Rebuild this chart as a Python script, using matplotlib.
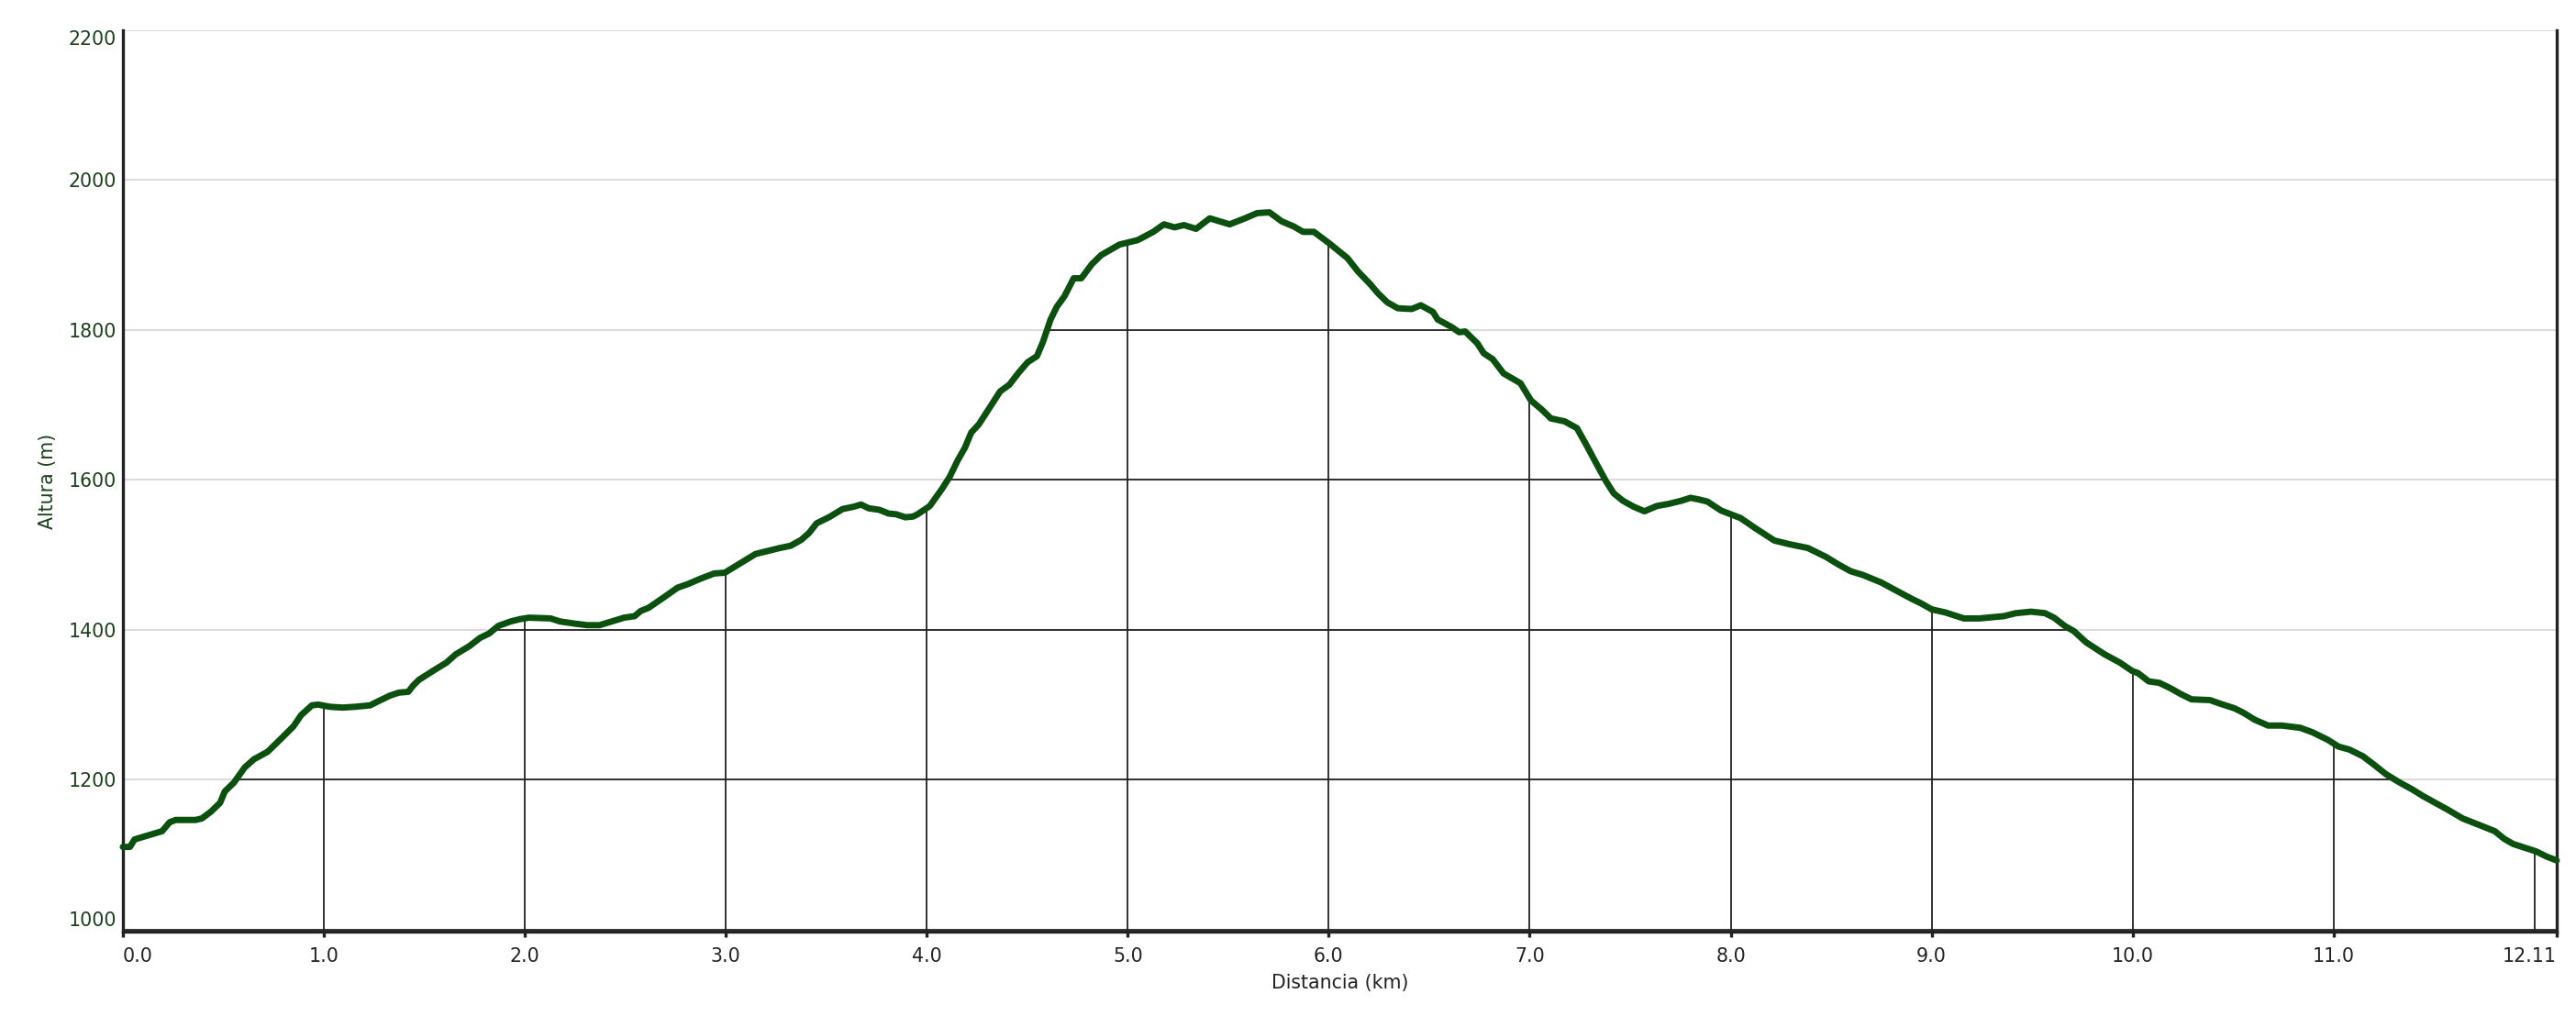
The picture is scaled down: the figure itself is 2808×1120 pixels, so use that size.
import numpy as np
import matplotlib
matplotlib.use("Agg")
import matplotlib.pyplot as plt
from matplotlib.patches import Polygon

# elevation profile (km, m)
dist_km = [0.0, 0.035, 0.058, 0.195, 0.233, 0.263, 0.362, 0.393, 0.438, 0.484,
           0.507, 0.553, 0.606, 0.652, 0.720, 0.789, 0.849, 0.887, 0.941, 0.971,
           1.032, 1.093, 1.154, 1.230, 1.275, 1.329, 1.374, 1.420, 1.443, 1.473,
           1.549, 1.610, 1.656, 1.724, 1.777, 1.823, 1.868, 1.930, 1.975, 2.021,
           2.128, 2.174, 2.250, 2.311, 2.372, 2.433, 2.494, 2.546, 2.577, 2.615,
           2.691, 2.760, 2.813, 2.874, 2.942, 2.995, 3.056, 3.148, 3.224, 3.269,
           3.323, 3.376, 3.414, 3.452, 3.513, 3.581, 3.635, 3.673, 3.711, 3.764,
           3.810, 3.848, 3.893, 3.932, 3.954, 4.015, 4.076, 4.114, 4.152, 4.190,
           4.221, 4.259, 4.312, 4.365, 4.411, 4.457, 4.502, 4.548, 4.578, 4.616,
           4.647, 4.685, 4.731, 4.769, 4.822, 4.868, 4.913, 4.959, 5.050, 5.127,
           5.180, 5.233, 5.279, 5.340, 5.408, 5.507, 5.583, 5.644, 5.705, 5.766,
           5.827, 5.872, 5.926, 6.001, 6.093, 6.146, 6.207, 6.245, 6.291, 6.344,
           6.413, 6.458, 6.519, 6.542, 6.611, 6.649, 6.679, 6.740, 6.771, 6.816,
           6.870, 6.954, 7.006, 7.059, 7.105, 7.174, 7.235, 7.281, 7.335, 7.380,
           7.418, 7.464, 7.518, 7.571, 7.632, 7.693, 7.754, 7.800, 7.838, 7.884,
           7.952, 8.001, 8.049, 8.125, 8.217, 8.293, 8.384, 8.475, 8.536, 8.597,
           8.658, 8.749, 8.811, 8.902, 8.948, 9.001, 9.068, 9.160, 9.237, 9.358,
           9.419, 9.495, 9.564, 9.609, 9.662, 9.708, 9.769, 9.861, 9.937, 9.997,
           10.027, 10.080, 10.133, 10.187, 10.240, 10.293, 10.385, 10.438, 10.507, 10.552,
           10.606, 10.674, 10.743, 10.834, 10.895, 10.971, 11.024, 11.078, 11.146, 11.200,
           11.261, 11.322, 11.390, 11.444, 11.505, 11.566, 11.642, 11.718, 11.802, 11.848,
           11.893, 11.962, 12.008, 12.061, 12.11]
alt_m = [1110, 1110, 1120, 1131, 1143, 1146, 1146, 1148, 1157, 1169,
         1184, 1196, 1216, 1227, 1237, 1255, 1271, 1286, 1299, 1300,
         1297, 1296, 1297, 1299, 1305, 1312, 1316, 1317, 1325, 1333,
         1346, 1356, 1367, 1378, 1389, 1395, 1405, 1411, 1414, 1416,
         1415, 1411, 1408, 1406, 1406, 1411, 1416, 1418, 1425, 1429,
         1443, 1456, 1461, 1468, 1475, 1476, 1486, 1501, 1506, 1509,
         1512, 1520, 1529, 1542, 1550, 1561, 1564, 1567, 1562, 1560,
         1555, 1554, 1550, 1551, 1554, 1565, 1588, 1604, 1625, 1643,
         1663, 1674, 1696, 1718, 1727, 1743, 1757, 1765, 1784, 1814,
         1831, 1845, 1869, 1869, 1888, 1900, 1907, 1914, 1920, 1931,
         1941, 1937, 1940, 1935, 1949, 1941, 1949, 1956, 1957, 1945,
         1938, 1931, 1931, 1916, 1896, 1878, 1861, 1849, 1837, 1829,
         1828, 1833, 1824, 1814, 1804, 1797, 1798, 1782, 1769, 1761,
         1742, 1729, 1706, 1694, 1682, 1678, 1669, 1647, 1620, 1598,
         1582, 1572, 1564, 1558, 1565, 1568, 1572, 1576, 1574, 1571,
         1559, 1554, 1549, 1535, 1519, 1514, 1509, 1497, 1487, 1478,
         1473, 1463, 1454, 1441, 1435, 1427, 1423, 1415, 1415, 1418,
         1422, 1424, 1422, 1416, 1405, 1398, 1383, 1367, 1356, 1345,
         1342, 1331, 1329, 1322, 1314, 1307, 1306, 1301, 1295, 1289,
         1280, 1272, 1272, 1269, 1263, 1253, 1244, 1240, 1231, 1220,
         1207, 1197, 1187, 1178, 1169, 1160, 1148, 1140, 1131, 1121,
         1114, 1108, 1104, 1097, 1092]

x_ticks = [0, 1, 2, 3, 4, 5, 6, 7, 8, 9, 10, 11, 12.11]
x_labels = ["0.0", "1.0", "2.0", "3.0", "4.0", "5.0", "6.0", "7.0", "8.0",
            "9.0", "10.0", "11.0", "12.11"]
y_ticks = [1000, 1200, 1400, 1600, 1800, 2000, 2200]
grid_x = [1, 2, 3, 4, 5, 6, 7, 8, 9, 10, 11, 12]

line_color = "#0c5010"
label_green = "#1c3f1c"
dark = "#222222"
y0, y1 = 997, 2200

plt.rcParams["font.family"] = ["DejaVu Sans"]
fig = plt.figure(figsize=(14.04, 5.6), dpi=200)
ax = fig.add_axes([0.0477, 0.0929, 0.9448, 0.8776])
ax.set_xlim(0, dist_km[-1])
ax.set_ylim(y0, y1)

# light grid over the whole plot
for yv in y_ticks[1:]:
    ax.axhline(yv, color="#dcdcdc", lw=0.75, zorder=1)

# dark grid only below the profile
dx = np.array(dist_km)
area = Polygon(np.column_stack([np.r_[dx[0], dx, dx[-1]],
                                np.r_[y0, alt_m, y0]]),
               closed=True, facecolor="none", edgecolor="none")
ax.add_patch(area)
vl = ax.vlines(grid_x, y0, y1, colors=dark, lw=0.65, zorder=2)
vl.set_clip_path(area)
hl = ax.hlines(y_ticks[:-1], 0, dist_km[-1], colors=dark, lw=0.65, zorder=2)
hl.set_clip_path(area)

ax.plot(dist_km, alt_m, color=line_color, lw=2.5, solid_joinstyle="round",
        solid_capstyle="round", zorder=3, clip_on=False)

for side in ["left", "right", "bottom"]:
    ax.spines[side].set_color(dark)
    ax.spines[side].set_linewidth(1.2)
ax.spines["top"].set_visible(False)

ax.set_xticks(x_ticks)
ax.set_xticklabels(x_labels)
ax.set_yticks(y_ticks)
ax.tick_params(axis="x", length=2, width=1.2, color=dark, labelsize=7.4,
               labelcolor=dark, pad=4)
ax.tick_params(axis="y", length=0, labelsize=7.4, labelcolor=label_green, pad=2.5)
xl = ax.get_xticklabels()
xl[0].set_horizontalalignment("left")
xl[-1].set_horizontalalignment("right")
yl = ax.get_yticklabels()
yl[-1].set_verticalalignment("top")
yl[0].set_verticalalignment("bottom")

ax.set_xlabel("Distancia (km)", fontsize=7.4, color=dark)
ax.xaxis.set_label_coords(0.5, -0.047)
ax.set_ylabel("Altura (m)", fontsize=7.4, color=label_green)
ax.yaxis.set_label_coords(-0.027, 0.5)

fig.savefig("out.png", dpi=200, facecolor="white")
